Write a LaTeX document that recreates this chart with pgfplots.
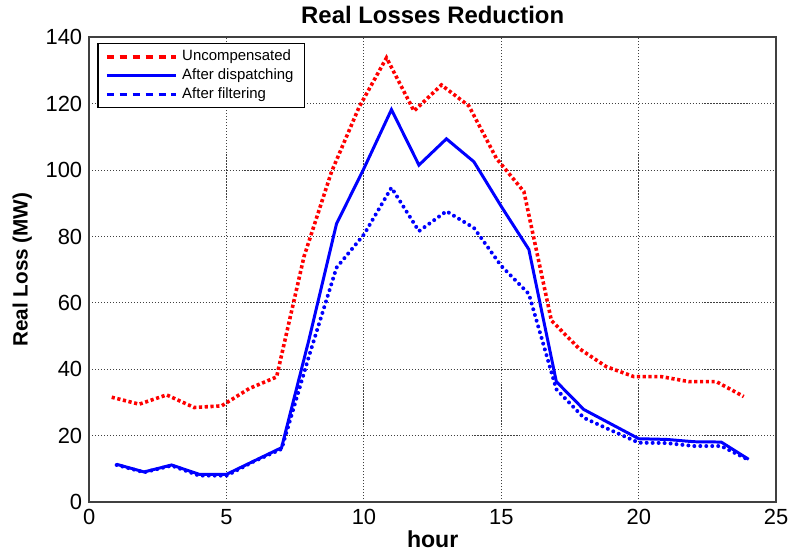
\documentclass[border=0pt]{standalone}
\usepackage{fontspec}
\setmainfont{Liberation Sans}
\usepackage{pgfplots}
\pgfplotsset{compat=1.18}
\begin{document}
\begin{tikzpicture}
\begin{axis}[
  scale only axis,
  width=345pt, height=233.5pt,
  xmin=0, xmax=25, ymin=0, ymax=140,
  xtick={0,5,...,25}, ytick={0,20,...,140},
  grid=major,
  major grid style={black!75, line width=0.5pt, dash pattern=on 0.6pt off 0.9pt},
  axis line style={black!75, line width=0.8pt},
  tick style={draw=none},
  /pgf/number format/assume math mode=true,
  tick label style={font=\fontsize{11}{13}\selectfont},
  title={\textbf{Real Losses Reduction}},
  title style={font=\fontsize{12}{14}\selectfont, yshift=-3pt},
  xlabel={\textbf{hour}},
  xlabel style={font=\fontsize{11.6}{13}\selectfont, yshift=4pt},
  ylabel={\textbf{Real Loss (MW)}},
  ylabel style={font=\fontsize{10.4}{12}\selectfont},
  legend style={at={(0.012,0.987)}, anchor=north west, font=\fontsize{7.5}{9}\selectfont, draw=black, line width=0.6pt, inner xsep=3.5pt, inner ysep=1pt, row sep=-1.5pt},
  legend cell align=left,
  legend image code/.code={\path (-1pt,0pt) -- (34pt,0pt); \draw[#1] (0pt,0pt) -- (29pt,0pt);},
]
\addplot[red, line width=1.8pt, dash pattern=on 1.6pt off 1.3pt,
  legend image post style={dash pattern=on 2.5pt off 4pt}] coordinates {
(0.82,31.6) (1.82,29.5) (2.82,32.3) (3.82,28.5) (4.82,29.0) (5.82,34.2) (6.82,37.7) (7.82,74.0)
(8.82,99.5) (9.82,118.9) (10.82,133.8) (11.82,117.8) (12.82,125.6) (13.82,119.3) (14.82,103.5) (15.82,93.5)
(16.82,54.7) (17.82,46.3) (18.82,40.8) (19.82,37.8) (20.82,37.8) (21.82,36.3) (22.82,36.3) (23.82,31.8)
};
\addlegendentry{Uncompensated}
\addplot[blue, line width=1.5pt] coordinates {
(1,11.4) (2,9.1) (3,11.2) (4,8.4) (5,8.4) (6,12.4) (7,16.4) (8,49.0)
(9,83.8) (10,100.5) (11,118.2) (12,101.5) (13,109.4) (14,102.5) (15,89.0) (16,76.1)
(17,36.3) (18,27.9) (19,23.5) (20,19.1) (21,18.9) (22,18.2) (23,18.1) (24,12.9)
};
\addlegendentry{After dispatching}
\addplot[blue, line width=2pt, line cap=round, dash pattern=on 0pt off 3pt,
  legend image post style={line cap=butt, line width=1.8pt, dash pattern=on 2.5pt off 4pt}] coordinates {
(1,11.2) (2,9.0) (3,11.0) (4,8.0) (5,8.0) (6,12.3) (7,16.0) (8,44.0)
(9,70.6) (10,80.6) (11,94.7) (12,81.6) (13,87.6) (14,82.6) (15,71.1) (16,62.7)
(17,34.0) (18,25.4) (19,21.6) (20,17.9) (21,17.8) (22,16.9) (23,16.9) (24,12.7)
};
\addlegendentry{After filtering}
\end{axis}
\path ([xshift=-3pt]current bounding box.west);
\end{tikzpicture}
\end{document}
